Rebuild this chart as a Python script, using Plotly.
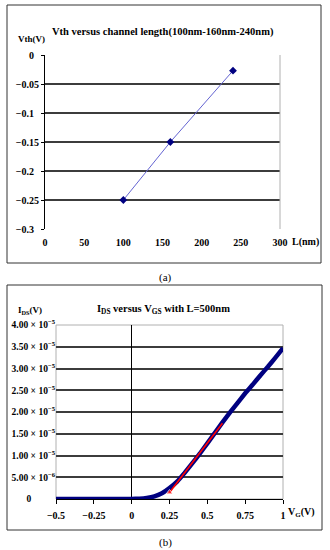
import plotly.graph_objects as go

# ---------------- data ----------------
# (a) Vth versus channel length
L_nm = [100, 160, 240]
vth_V = [-0.25, -0.15, -0.027]
a_xticks = [0, 50, 100, 150, 200, 250, 300]
a_yticks = [0, -0.05, -0.1, -0.15, -0.2, -0.25, -0.3]
a_yticktext = ["0\u2007", "\u22120.05", "\u22120.1\u2007", "\u22120.15", "\u22120.2\u2007", "\u22120.25", "\u22120.3\u2007"]
a_grid = [-0.05, -0.1, -0.15, -0.2, -0.25]

# (b) IDS versus VGS
vgs = [-0.5, -0.45, -0.4, -0.35, -0.3, -0.25, -0.2, -0.15, -0.1, -0.05, 0.0,
       0.05, 0.1, 0.15, 0.2, 0.25, 0.3, 0.35, 0.4, 0.45, 0.5, 0.55, 0.6,
       0.65, 0.7, 0.75, 0.8, 0.85, 0.9, 0.95, 1.0]
ids_uA = [0, 0, 0, 0, 0, 0, 0, 0, 0, 0, 0.02,
          0.08, 0.25, 0.6, 1.3, 2.5, 4.0, 6.0, 8.2, 10.4, 12.8, 15.2, 17.6,
          19.9, 22.1, 24.3, 26.3, 28.4, 30.4, 32.5, 34.7]
fit_vgs = [0.25, 0.6]
fit_ids_uA = [1.5, 17.4]
b_xticks = [-0.5, -0.25, 0, 0.25, 0.5, 0.75, 1]
b_xticktext = ["\u22120.5", "\u22120.25", "0", "0.25", "0.5", "0.75", "1"]
b_yticks = [0, 5e-6, 1e-5, 1.5e-5, 2e-5, 2.5e-5, 3e-5, 3.5e-5, 4e-5]
b_yticktext = ["0" + "\u00a0" * 10,
               "5.00 \u00d7 10<sup>\u22126</sup>",
               "1.00 \u00d7 10<sup>\u22125</sup>",
               "1.50 \u00d7 10<sup>\u22125</sup>",
               "2.00 \u00d7 10<sup>\u22125</sup>",
               "2.50 \u00d7 10<sup>\u22125</sup>",
               "3.00 \u00d7 10<sup>\u22125</sup>",
               "3.50 \u00d7 10<sup>\u22125</sup>",
               "4.00 \u00d7 10<sup>\u22125</sup>"]
b_grid = [5e-6, 1e-5, 1.5e-5, 2e-5, 2.5e-5, 3e-5, 3.5e-5]

ids_A = [v * 1e-6 for v in ids_uA]
fit_ids_A = [v * 1e-6 for v in fit_ids_uA]

W, H = 330, 550
def px(x):
    return x / W
def py(y):
    return 1 - y / H

SERIF = "Liberation Serif"
tickfont = dict(family=SERIF, size=10, color="black", weight="bold")
ytickfont_b = dict(family=SERIF, size=9.5, color="black", weight="bold")
GRID = "#3c3c3c"
BORDER = "#b0b0b0"

fig = go.Figure()

# (a) trace
fig.add_trace(go.Scatter(x=L_nm, y=vth_V, mode="lines+markers",
                         line=dict(color="#6464d2", width=1),
                         marker=dict(symbol="diamond", size=6, color="#000080"),
                         xaxis="x", yaxis="y", showlegend=False))
# (b) traces
fig.add_trace(go.Scatter(x=vgs, y=ids_A, mode="lines",
                         line=dict(color="#000080", width=4.5, shape="spline", smoothing=0.3),
                         xaxis="x2", yaxis="y2", showlegend=False))
fig.add_trace(go.Scatter(x=fit_vgs, y=fit_ids_A, mode="lines+markers",
                         line=dict(color="#ff0000", width=1.6),
                         marker=dict(symbol="triangle-up", size=[6, 0], color="#ff0000"),
                         xaxis="x2", yaxis="y2", showlegend=False))

fig.update_layout(
    width=W, height=H, autosize=False,
    margin=dict(l=0, r=0, t=0, b=0, autoexpand=False),
    paper_bgcolor="white", plot_bgcolor="white",
    font=dict(family=SERIF, color="black"),
    # ---- (a) axes ----
    xaxis=dict(domain=[px(45), px(280)], anchor="y", range=[0, 300], automargin=False,
               tickvals=a_xticks, showgrid=False, zeroline=False, showline=False,
               ticks="", tickfont=tickfont, ticklabelstandoff=6),
    xaxis3=dict(overlaying="x", anchor="y", side="top", range=[0, 300], automargin=False,
                tickvals=a_xticks, showticklabels=False, showgrid=False, zeroline=False,
                showline=True, linecolor="black", linewidth=1, ticks="outside",
                ticklen=3, tickcolor="black"),
    yaxis=dict(domain=[py(229), py(55)], anchor="x", range=[-0.3, 0], automargin=False,
               tickvals=a_yticks, ticktext=a_yticktext, showgrid=False, zeroline=False,
               showline=True, linecolor="black", linewidth=1, ticks="outside",
               ticklen=3, tickcolor="black", tickfont=tickfont,
               minor=dict(tickvals=a_grid, showgrid=True, gridcolor=GRID, gridwidth=1.6, ticks="")),
    # ---- (b) axes ----
    xaxis2=dict(domain=[px(56), px(283)], anchor="y2", range=[-0.5, 1], automargin=False,
                tickvals=b_xticks, ticktext=b_xticktext, showgrid=False,
                zeroline=True, zerolinecolor="black", zerolinewidth=1,
                showline=True, linecolor="black", linewidth=1, ticks="outside",
                ticklen=4, tickcolor="black", tickfont=tickfont, ticklabelstandoff=3),
    yaxis2=dict(domain=[py(499), py(325)], anchor="x2", range=[0, 4e-5], automargin=False,
                tickvals=b_yticks, ticktext=b_yticktext, showgrid=False, zeroline=False,
                showline=False, ticks="", tickfont=ytickfont_b,
                minor=dict(tickvals=b_grid, showgrid=True, gridcolor=GRID, gridwidth=1.6, ticks="")),
)

shapes = []
# outer frames
shapes.append(dict(type="rect", xref="paper", yref="paper", x0=px(7), x1=px(321), y0=py(263), y1=py(5),
                   line=dict(color="#333333", width=1), fillcolor="rgba(0,0,0,0)"))
shapes.append(dict(type="rect", xref="paper", yref="paper", x0=px(7), x1=px(322), y0=py(530), y1=py(285),
                   line=dict(color="#333333", width=1), fillcolor="rgba(0,0,0,0)"))
# plot-area borders (light grey)
shapes.append(dict(type="line", xref="x domain", yref="y domain", x0=1, x1=1, y0=0, y1=1,
                   line=dict(color=BORDER, width=1)))
shapes.append(dict(type="rect", xref="x2 domain", yref="y2 domain", x0=0, x1=1, y0=0, y1=1,
                   line=dict(color=BORDER, width=1), layer="below"))
fig.update_layout(shapes=shapes)

ann = []
def add_text(text, x, y, size=9, xanchor="center", bold=True):
    ann.append(dict(text=text, x=px(x), y=py(y), xref="paper", yref="paper", showarrow=False,
                    xanchor=xanchor, yanchor="middle",
                    font=dict(family=SERIF, size=size, color="black", weight="bold" if bold else "normal")))

add_text("Vth versus channel length(100nm-160nm-240nm)", 163, 32, size=10.5)
add_text("Vth(V)", 16, 39, size=9, xanchor="left")
add_text("L(nm)", 290, 242, size=10, xanchor="left")
add_text("(a)", 165, 277, size=11, bold=False)
add_text("I<sub>DS</sub> versus V<sub>GS</sub> with L=500nm", 163, 309, size=10.5)
add_text("I<sub>DS</sub>(V)", 16, 310, size=9, xanchor="left")
add_text("V<sub>G</sub>(V)", 286, 512, size=10, xanchor="left")
add_text("(b)", 165, 542, size=11, bold=False)
fig.update_layout(annotations=ann)

fig.write_html("out.html", config={"displayModeBar": False},
               post_script="document.body.style.margin='0';document.body.style.overflow='hidden';")
